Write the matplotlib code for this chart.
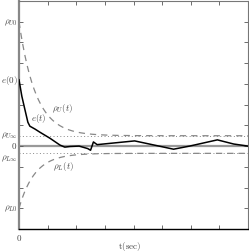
import numpy as np
import matplotlib
matplotlib.use("Agg")
import matplotlib.pyplot as plt

plt.rcParams['mathtext.fontset'] = 'cm'
plt.rcParams['font.family'] = 'serif'
plt.rcParams['font.serif'] = ['DejaVu Serif']

# performance bounds
rho_u0, rho_uinf, l_u = 6.0, 0.5, 1.7
rho_l0, rho_linf, l_l = -3.0, -0.35, 1.8

# error trajectory
e_t = [0, 0.1, 0.2, 0.31, 0.38, 0.56, 0.73, 1.08, 1.43, 1.6, 1.78, 2.1, 2.4, 2.5, 2.6, 2.73,
       4.04, 5.4, 5.96, 6.93, 7.5, 8.0]
e_v = [3.2, 2.4, 1.8, 1.15, 0.96, 0.82, 0.67, 0.38, 0.05, -0.05, -0.02, 0.0, -0.12, -0.2, 0.2,
       0.07, 0.25, -0.15, 0.0, 0.3, 0.1, 0.0]

t = np.linspace(0, 8, 400)
rho_u = (rho_u0 - rho_uinf) * np.exp(-l_u * t) + rho_uinf
rho_l = (rho_l0 - rho_linf) * np.exp(-l_l * t) + rho_linf

fig = plt.figure(figsize=(2.49, 2.53), dpi=100)
ax = fig.add_axes([19 / 249, 23 / 253, 229 / 249, 228 / 253])

ax.axhline(0, color='#999999', lw=1.6, zorder=1)
ax.axhline(rho_uinf, color='#888888', lw=0.7, ls=(0, (1, 2.5)))
ax.axhline(rho_linf, color='#888888', lw=0.7, ls=(0, (1, 2.5)))
ax.plot(t, rho_u, color='#888888', lw=0.9, ls=(0, (5, 4)))
ax.plot(t, rho_l, color='#888888', lw=0.9, ls=(0, (5, 4)))
ax.plot(e_t, e_v, color='black', lw=1.1, zorder=3)

ax.set_xlim(0, 8)
ax.set_ylim(-4, 7)
ax.set_xticks(np.arange(0, 9, 1))
ax.set_yticks(np.arange(-4, 8, 1))
ax.set_xticklabels([])
ax.set_yticklabels([])
ax.tick_params(direction='in', length=3, width=0.6, top=True, right=True, colors='#555555')

for s in ['top', 'right']:
    ax.spines[s].set_color('#777777')
    ax.spines[s].set_linewidth(0.8)
ax.spines['left'].set_color('#888888')
ax.spines['left'].set_linewidth(1.6)
ax.spines['bottom'].set_color('black')
ax.spines['bottom'].set_linewidth(1.0)

fs = 6.5
tc = '#444444'
ylabs = [(rho_u0, r'$\rho_{U0}$'), (3.2, r'$e(0)$'), (rho_uinf + 0.05, r'$\rho_{U\infty}$'),
         (0.05, r'$0$'), (rho_linf - 0.2, r'$\rho_{L\infty}$'), (rho_l0, r'$\rho_{L0}$')]
for yv, lab in ylabs:
    ax.text(-0.05, yv, lab, ha='right', va='center', fontsize=fs, color=tc)

ax.text(1.15, 1.87, r'$\rho_U(t)$', fontsize=fs, ha='left', va='center', color=tc)
ax.text(0.42, 1.4, r'$e(t)$', fontsize=fs, ha='left', va='center', color=tc)
ax.text(1.18, -0.95, r'$\rho_L(t)$', fontsize=fs, ha='left', va='center', color=tc)

ax.text(0, -4.4, r'$0$', fontsize=fs, ha='center', va='center', color=tc)
ax.text(3.85, -4.8, r'$\mathrm{t(sec)}$', fontsize=fs, ha='center', va='center', color=tc)

fig.savefig('out.png', dpi=100)
